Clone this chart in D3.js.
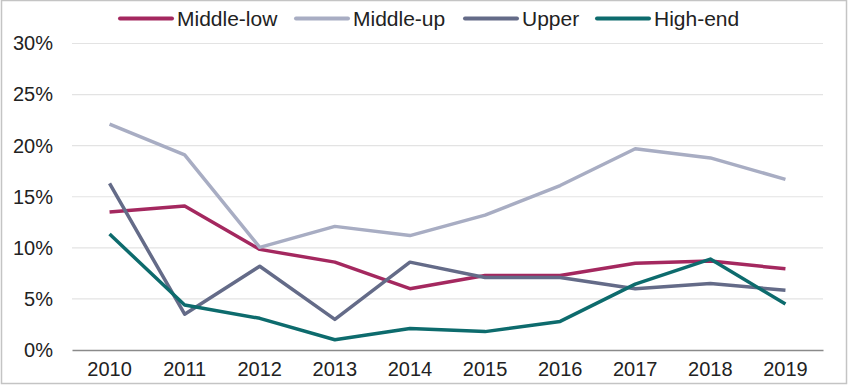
<!DOCTYPE html>
<html><head><meta charset="utf-8">
<script src="https://cdn.jsdelivr.net/npm/d3@7"></script>
<style>html,body{margin:0;padding:0;background:#fff;} svg{display:block;font-family:"Liberation Sans",Arial,sans-serif;}</style>
</head><body>
<svg id="c" width="850" height="386"></svg>
<script>
const years = ["2010","2011","2012","2013","2014","2015","2016","2017","2018","2019"];
const seriesNames = ["Middle-low","Middle-up","Upper","High-end"];
const seriesColors = ["#a4285f","#a8adc3","#646b88","#0d6b6d"];
const middleLow = [13.5,14.1,9.85,8.6,6.0,7.3,7.3,8.5,8.7,7.95];
const middleUp  = [22.1,19.1,10.05,12.1,11.2,13.2,16.1,19.7,18.8,16.7];
const upper     = [16.3,3.5,8.2,3.0,8.6,7.1,7.1,6.0,6.5,5.85];
const highEnd   = [11.35,4.4,3.1,1.0,2.1,1.8,2.8,6.45,8.9,4.5];
const yTicks = [0,5,10,15,20,25,30];
const seriesData = [middleLow, middleUp, upper, highEnd];

const svg = d3.select("#c");
svg.append("rect").attr("x",1.5).attr("y",0.5).attr("width",845).attr("height",383)
  .attr("fill","none").attr("stroke","#c4c4c4").attr("stroke-width",1.5);

const x = d3.scaleBand().domain(years).range([72,823]);
const y = d3.scaleLinear().domain([0,30]).range([350,43.5]);

// gridlines
svg.append("g").selectAll("line").data(yTicks.filter(t=>t>0)).join("line")
  .attr("x1",72).attr("x2",823).attr("y1",d=>y(d)).attr("y2",d=>y(d))
  .attr("stroke","#e3e3e3").attr("stroke-width",1.2);

// y axis labels
const ya = svg.append("g").attr("transform","translate(72,0)")
  .call(d3.axisLeft(y).tickValues(yTicks).tickFormat(d=>d+"%").tickSize(0).tickPadding(19));
ya.select(".domain").remove();
ya.selectAll("text").attr("font-size",20).attr("fill","#222").attr("font-family","Liberation Sans, Arial, sans-serif");

// x axis
const xa = svg.append("g").attr("transform","translate(0,350)")
  .call(d3.axisBottom(x).tickSize(0).tickPadding(12));
xa.select(".domain").attr("stroke","#8a8a8a").attr("stroke-width",1.5);
xa.selectAll("text").attr("font-size",20).attr("fill","#222").attr("font-family","Liberation Sans, Arial, sans-serif");

const line = d3.line().x((d,i)=>x(years[i])+x.bandwidth()/2).y(d=>y(d));
seriesData.forEach((s,k)=>{
  svg.append("path").datum(s).attr("d",line).attr("fill","none")
    .attr("stroke",seriesColors[k]).attr("stroke-width",3.5).attr("stroke-linejoin","round");
});

// legend
const legX = [120,296,465,597];
const lg = svg.append("g");
seriesNames.forEach((n,k)=>{
  lg.append("line").attr("x1",legX[k]).attr("x2",legX[k]+52).attr("y1",18.5).attr("y2",18.5)
    .attr("stroke",seriesColors[k]).attr("stroke-width",4).attr("stroke-linecap","round");
  lg.append("text").attr("x",legX[k]+57).attr("y",25.5).attr("font-size",21).attr("fill","#222").text(n);
});
</script>
</body></html>
